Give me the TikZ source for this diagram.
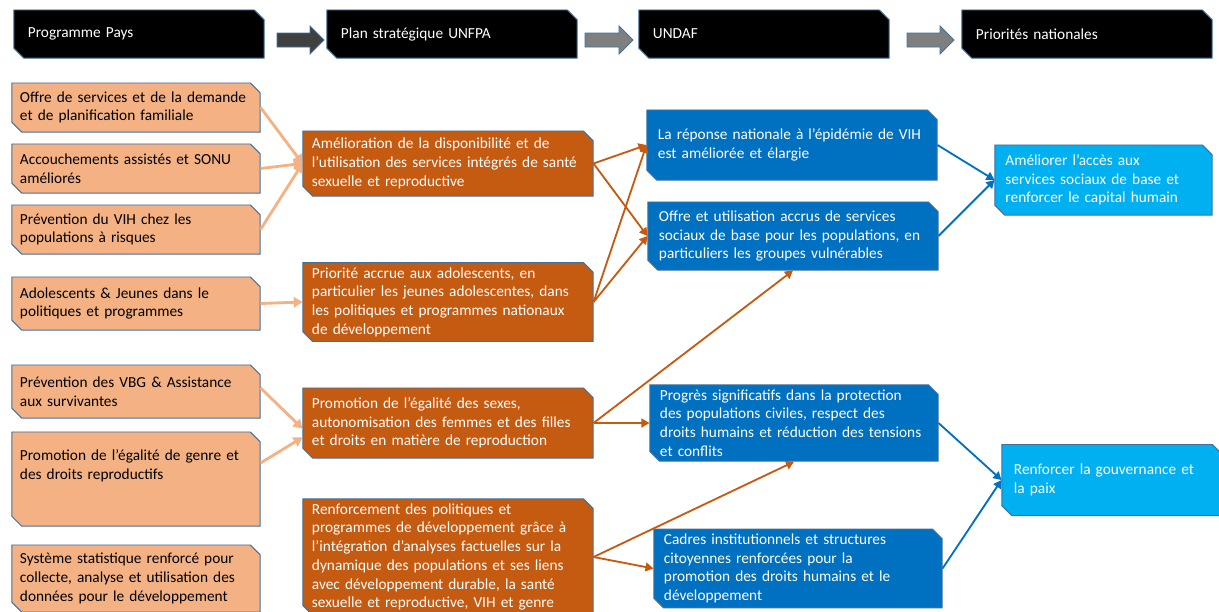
\documentclass[tikz,border=0pt]{standalone}
\usepackage{fontspec}
\setmainfont{Carlito}
\usetikzlibrary{shapes.misc,arrows.meta}
\definecolor{edgeblue}{RGB}{65, 113, 156}
\definecolor{arrowdark}{RGB}{64, 64, 64}
\definecolor{arrowgrey}{RGB}{127, 127, 127}
\definecolor{peach}{RGB}{244, 177, 131}
\definecolor{rust}{RGB}{197, 90, 17}
\definecolor{undafblue}{RGB}{0, 112, 192}
\definecolor{skyblue}{RGB}{0, 176, 240}

\begin{document}
\begin{tikzpicture}[
        x=0.025cm, y=-0.025cm,
        snipbox/.style={chamfered rectangle, chamfered rectangle corners={north east, south west}, chamfered rectangle xsep=0.12cm, chamfered rectangle ysep=0.12cm, draw=edgeblue, line width=0.7pt, inner sep=0pt, align=left, font=\fontsize{10.9}{13.3}\selectfont},
        headbox/.style={snipbox, fill=black, text=white, minimum width=6.25cm, minimum height=1.2cm, text width=5.55cm},
        outputbox/.style={snipbox, fill=peach, text=black, minimum width=6.2cm, text width=5.8cm},
        outcomebox/.style={snipbox, fill=rust, text=white, minimum width=7.25cm, text width=6.8cm},
        undafbox/.style={snipbox, fill=undafblue, text=white, minimum width=7.25cm, text width=6.7cm},
        prioritybox/.style={snipbox, fill=skyblue, text=white, minimum width=5.45cm, text width=4.9cm},
        blockarrow/.style={draw=edgeblue, line width=0.7pt},
        feed/.style={-{Triangle[length=0.22cm, width=0.26cm]}, line width=2pt, color=peach},
        link/.style={-{Triangle[length=0.2cm, width=0.22cm]}, line width=1.3pt, color=rust},
        goal/.style={-{Triangle[length=0.2cm, width=0.22cm]}, line width=1.3pt, color=undafblue}
    ]
    \useasboundingbox (0,0) rectangle (1219,612);

    % Header row
    \node[headbox] (progpays) at (139, 34) {Programme Pays};
    \node[headbox] (planstrat) at (452, 34) {Plan stratégique UNFPA};
    \node[headbox] (undaf) at (764, 34) {UNDAF};
    \node[headbox] (prionat) at (1087, 34) {Priorités nationales};

    % Block arrows between the headers
    \filldraw[blockarrow, fill=arrowdark] (277,33) -- (310,33) -- (310,26) -- (324,40) -- (310,54) -- (310,47) -- (277,47) -- cycle;
    \filldraw[blockarrow, fill=arrowgrey] (585,33) -- (619,33) -- (619,26) -- (633,40) -- (619,54) -- (619,47) -- (585,47) -- cycle;
    \filldraw[blockarrow, fill=arrowgrey] (907,33) -- (940,33) -- (940,26) -- (954,40) -- (940,54) -- (940,47) -- (907,47) -- cycle;

    % Programme Pays outputs
    \node[outputbox, minimum height=1.225cm] (offrepf) at (136, 107.5) {Offre de services et de la demande\\et de planification familiale};
    \node[outputbox, minimum height=1.225cm] (sonu) at (136, 168.5) {Accouchements assistés et SONU\\améliorés};
    \node[outputbox, minimum height=1.225cm] (vih) at (136, 229.5) {Prévention du VIH chez les\\populations à risques};
    \node[outputbox, minimum height=1.325cm] (jeunes) at (136, 303.5) {Adolescents \& Jeunes dans le\\politiques et programmes};
    \node[outputbox, minimum height=1.325cm] (vbg) at (136, 391.5) {Prévention des VBG \& Assistance\\aux survivantes};
    \node[outputbox, minimum height=2.35cm] (genre) at (136, 479) {Promotion de l’égalité de genre et\\des droits reproductifs\\[7pt]\mbox{}};
    \node[outputbox, minimum height=1.675cm] (stat) at (136, 578.5) {Système statistique renforcé pour\\collecte, analyse et utilisation des\\données pour le développement};

    % Plan strategique outcomes
    \node[outcomebox, minimum height=1.625cm] (ssr) at (448, 163.5) {Amélioration de la disponibilité et de\\l'utilisation des services intégrés de santé\\sexuelle et reproductive};
    \node[outcomebox, minimum height=1.9cm] (ado) at (448, 302) {Priorité accrue aux adolescents, en\\particulier les jeunes adolescentes, dans\\les politiques et programmes nationaux\\de développement};
    \node[outcomebox, minimum height=1.75cm] (egalite) at (448, 423) {Promotion de l’égalité des sexes,\\autonomisation des femmes et des filles\\et droits en matière de reproduction};
    \node[outcomebox, minimum height=2.85cm] (politiques) at (448, 557) {Renforcement des politiques et\\programmes de développement grâce à\\l’intégration d’analyses factuelles sur la\\dynamique des populations et ses liens\\avec développement durable, la santé\\sexuelle et reproductive, VIH et genre};

    % UNDAF effects
    \node[undafbox, minimum height=1.75cm] (reponse) at (792, 145) {La réponse nationale à l’épidémie de VIH\\est améliorée et élargie};
    \node[undafbox, minimum height=1.7cm] (sociaux) at (793, 236) {Offre et utilisation accrus de services\\sociaux de base pour les populations, en\\particuliers les groupes vulnérables};
    \node[undafbox, minimum width=7.2cm, minimum height=1.9cm] (protection) at (794, 423) {Progrès significatifs dans la protection\\des populations civiles, respect des\\droits humains et réduction des tensions\\et conflits};
    \node[undafbox, minimum width=7.2cm, minimum height=1.925cm] (cadres) at (798, 568.5) {Cadres institutionnels et structures\\citoyennes renforcées pour la\\promotion des droits humains et le\\développement};

    % National priorities
    \node[prioritybox, minimum width=5.425cm, minimum height=1.75cm] (acces) at (1103.5, 180) {Améliorer l’accès aux\\services sociaux de base et\\renforcer le capital humain};
    \node[prioritybox, minimum width=5.5cm, minimum height=1.775cm] (gouv) at (1112, 480) {Renforcer la gouvernance et\\la paix};

    % Outputs to outcomes
    \draw[feed] (offrepf.east) -- (ssr.west);
    \draw[feed] (sonu.east) -- (ssr.west);
    \draw[feed] (vih.east) -- (ssr.west);
    \draw[feed] (jeunes.east) -- (ado.west);
    \draw[feed] ([yshift=0.09cm]vbg.east) -- ([yshift=-0.14cm]egalite.west);
    \draw[feed] ([yshift=0.4cm]genre.east) -- ([yshift=-0.36cm]egalite.west);

    % Outcomes to UNDAF effects
    \draw[link] (ssr.east) -- (reponse.west);
    \draw[link] (ssr.east) -- (sociaux.west);
    \draw[link] (ado.east) -- (reponse.west);
    \draw[link] (ado.east) -- (sociaux.west);
    \draw[link] (egalite.east) -- (sociaux.south);
    \draw[link] (egalite.east) -- (protection.west);
    \draw[link] (politiques.east) -- (protection.south);
    \draw[link] (politiques.east) -- (cadres.west);

    % UNDAF effects to national priorities
    \draw[goal] (reponse.east) -- (acces.west);
    \draw[goal] (sociaux.east) -- (acces.west);
    \draw[goal] (protection.east) -- (gouv.west);
    \draw[goal] (cadres.east) -- (gouv.west);

\end{tikzpicture}
\end{document}
